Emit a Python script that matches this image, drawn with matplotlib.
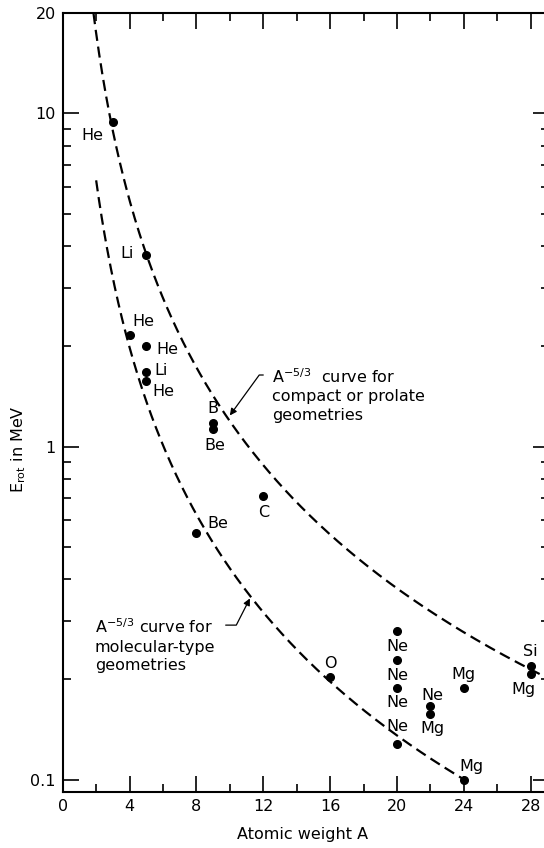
import matplotlib
matplotlib.use('Agg')
import matplotlib.pyplot as plt
from matplotlib.ticker import FixedLocator, FixedFormatter, NullFormatter
import numpy as np

plt.rcParams['font.family'] = ['DejaVu Sans']
plt.rcParams['mathtext.fontset'] = 'dejavusans'

names = ['He', 'Li', 'He', 'He', 'Li', 'He', 'B', 'Be', 'Be', 'C', 'O',
         'Ne', 'Ne', 'Ne', 'Ne', 'Ne', 'Mg', 'Mg', 'Mg', 'Si', 'Mg']
A = [3, 5, 4, 5, 5, 5, 9, 9, 8, 12, 16,
     20, 20, 20, 20, 22, 22, 24, 24, 28, 28]
E = [9.4, 3.75, 2.16, 2.0, 1.67, 1.57, 1.18, 1.13, 0.55, 0.71, 0.204,
     0.279, 0.228, 0.189, 0.128, 0.166, 0.157, 0.189, 0.1, 0.219, 0.207]

# A^-5/3 curves: prefactor and A range of each
c_compact, a_compact = 55.3, (1.84, 29.2)
c_molec, a_molec = 20.0, (2.0, 24.0)

xticks = [0, 4, 8, 12, 16, 20, 24, 28]
yticks = [0.1, 1, 10, 20]
ytick_labels = ['0.1', '1', '10', '20']

# label offsets in pixels from each dot
label_off = [(-20, -13), (-19, 2), (14, 14), (21, -3), (15, 2), (17, -10),
             (0, 14), (2, -17), (21, 10), (0, -16), (0, 13),
             (0, -15), (0, -15), (0, -15), (0, 17), (2, 11), (2, -14),
             (0, 13), (8, 13), (0, 15), (-7, -15)]

fig = plt.figure(figsize=(5.44, 8.48), dpi=100)
ax = fig.add_axes([0.1153, 0.0664, 0.894, 0.918])

ax.set_yscale('log')
ax.set_xlim(0, 29.1)
ax.set_ylim(0.092, 20)

xc = np.linspace(a_compact[0], a_compact[1], 400)
xm = np.linspace(a_molec[0], a_molec[1], 400)
ax.plot(xc, c_compact * xc ** (-5 / 3), color='black', lw=1.6, dashes=[5, 2.6])
ax.plot(xm, c_molec * xm ** (-5 / 3), color='black', lw=1.6, dashes=[5, 2.6])

ax.plot(A, E, 'o', color='black', markersize=5.5)

for n, a, e, off in zip(names, A, E, label_off):
    ax.annotate(n, (a, e), xytext=off, textcoords='offset pixels',
                ha='center', va='center', fontsize=11.5)

arrow = dict(arrowstyle='-|>', color='black', lw=0.9, shrinkA=0, shrinkB=0,
             mutation_scale=10)

ax.text(12.5, 1.43, '$\\mathregular{A^{-5/3}}$  curve for\ncompact or prolate\ngeometries',
        ha='left', va='center', fontsize=11.5, linespacing=1.3)
ax.annotate('', xy=(10.0, 1.24), xytext=(12.0, 1.64),
            arrowprops=dict(arrow, connectionstyle='angle,angleA=0,angleB=54,rad=0'))

ax.text(1.93, 0.253, '$\\mathregular{A^{-5/3}}$ curve for\nmolecular-type\ngeometries',
        ha='left', va='center', fontsize=11.5, linespacing=1.3)
ax.annotate('', xy=(11.2, 0.35), xytext=(9.75, 0.291),
            arrowprops=dict(arrow, connectionstyle='angle,angleA=0,angleB=-117,rad=0'))

ax.xaxis.set_major_locator(FixedLocator(xticks))
ax.xaxis.set_minor_locator(FixedLocator([2, 6, 10, 14, 18, 22, 26]))
ax.yaxis.set_major_locator(FixedLocator(yticks))
ax.yaxis.set_major_formatter(FixedFormatter(ytick_labels))
ax.yaxis.set_minor_locator(FixedLocator([0.2, 0.3, 0.4, 0.5, 0.6, 0.7, 0.8, 0.9,
                                         2, 3, 4, 5, 6, 7, 8, 9]))
ax.yaxis.set_minor_formatter(NullFormatter())

ax.tick_params(which='both', direction='in', top=True, right=True,
               labelsize=11.5, width=1.2, pad=5)
ax.tick_params(which='major', length=11.5)
ax.tick_params(which='minor', length=5.5)
for s in ax.spines.values():
    s.set_linewidth(1.5)

ax.set_xlabel('Atomic weight A', fontsize=11.5)
ax.set_ylabel('$\\mathregular{E_{rot}}$ in MeV', fontsize=11.5)
ax.xaxis.set_label_coords(0.494, -0.045)
ax.yaxis.set_label_coords(-0.072, 0.44)

fig.savefig('out.png', dpi=100)
